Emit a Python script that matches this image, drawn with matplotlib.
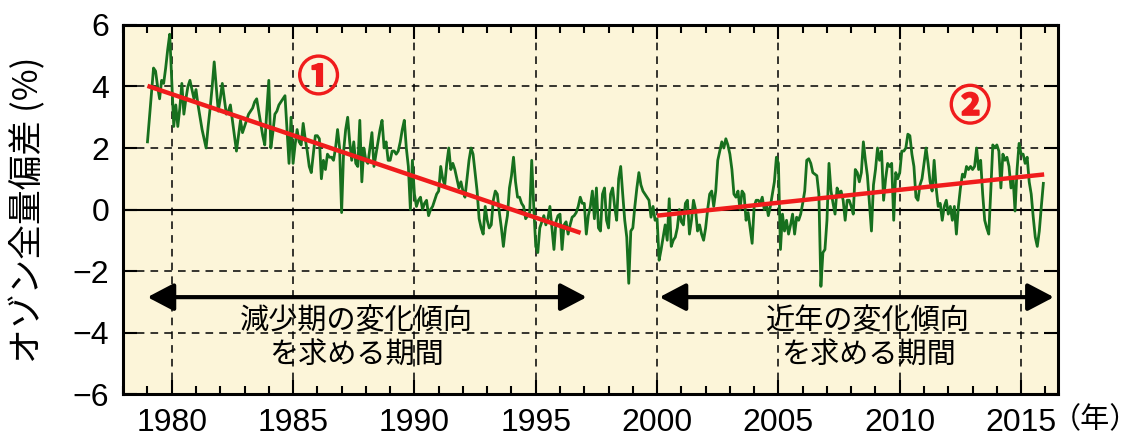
import numpy as np
import matplotlib.pyplot as plt
import matplotlib.patheffects as pe
from matplotlib.ticker import MultipleLocator

# monthly total ozone anomaly (%), Jan 1979 - Dec 2015
ozone_1979_1988 = [
    2.2, 3.0, 3.8, 4.6, 4.5, 4.0, 3.6, 4.2, 4.1, 4.6, 5.2, 5.7,    # 1979
    4.2, 2.7, 3.4, 2.7, 3.3, 4.1, 3.1, 3.6, 4.0, 4.2, 3.9, 3.6,    # 1980
    3.9, 3.4, 3.0, 2.6, 2.3, 2.0, 2.7, 3.3, 4.0, 4.8, 4.0, 3.2,    # 1981
    3.6, 4.1, 3.6, 3.1, 3.2, 3.4, 2.9, 2.4, 1.9, 2.4, 2.9, 2.5,    # 1982
    2.7, 2.9, 3.1, 3.2, 3.3, 3.5, 3.6, 3.2, 2.8, 2.4, 2.1, 3.2,    # 1983
    4.2, 2.0, 2.5, 3.1, 3.2, 3.4, 3.5, 3.6, 3.7, 2.6, 1.5, 3.0,    # 1984
    1.5, 2.1, 2.6, 2.2, 2.1, 2.8, 2.3, 1.9, 1.4, 1.2, 1.8, 2.4,    # 1985
    2.4, 2.3, 1.0, 1.6, 1.3, 1.8, 1.7, 1.7, 1.6, 2.0, 2.6, 2.0,    # 1986
    -0.1, 1.9, 2.6, 3.0, 2.2, 1.6, 2.2, 1.5, 1.4, 2.9, 0.9, 2.0,   # 1987
    1.6, 1.5, 2.0, 2.5, 1.4, 1.8, 2.2, 2.6, 2.9, 2.0, 2.2, 1.6,    # 1988
]
ozone_1989_1998 = [
    1.6, 1.9, 1.9, 1.8, 1.9, 2.2, 2.6, 2.9, 2.0, 1.4, 0.0, 1.6,            # 1989
    0.5, 0.1, 0.3, 0.4, 0.0, 0.2, 0.3, -0.2, 0.0, 0.1, 0.3, 0.5,           # 1990
    0.6, 1.4, 1.0, 0.8, 1.5, 2.0, 1.3, 1.5, 1.3, 1.0, 0.7, 0.9,            # 1991
    0.6, 0.4, 1.0, 1.6, 2.0, 1.8, 1.2, 0.6, -0.3, -0.6, -0.8, 0.1,         # 1992
    -0.35, -0.6, -0.5, 0.3, 0.6, 0.5, -0.1, -0.6, -1.2, -0.6, -0.2, 0.7,   # 1993
    1.1, 1.7, 0.9, 0.4, 0.4, 0.2, 0.1, -0.3, -0.2, -0.1, 1.6, 0.1,         # 1994
    -1.2, -1.4, -0.6, -0.4, -0.2, -0.5, -0.3, 0.1, -0.6, -1.3, -0.4, -0.2, # 1995
    -0.15, -1.3, -0.5, -0.4, -0.8, -0.5, -0.25, -0.2, -0.1, 0.1, 0.4, 0.2, # 1996
    0.2, -0.8, -0.2, 0.1, 0.6, -0.3, 0.7, -0.6, -0.7, 0.5, 0.7, -0.35,     # 1997
    -0.6, 0.5, 0.7, 0.1, -0.35, 1.0, 1.4, 0.5, -0.35, -0.9, -2.4, -0.7,    # 1998
]
ozone_1999_2008 = [
    -0.6, 0.1, 0.7, 1.2, 0.8, 0.6, 0.5, 0.4, 0.3, -0.25, 0.1, -0.35,           # 1999
    -0.3, -1.65, -1.3, -0.9, -0.5, -1.0, 0.35, -1.2, -1.0, -0.9, -0.6, 0.0,    # 2000
    -0.4, -0.5, 0.2, 0.3, -0.8, -0.35, 0.3, 0.0, -0.7, -0.5, -0.8, -1.0,       # 2001
    -0.6, 0.0, 0.5, 0.6, 0.1, 0.6, 1.6, 1.9, 2.2, 2.0, 2.3, 2.1,               # 2002
    1.8, 1.3, 0.5, 0.4, 0.6, 0.0, 0.6, 0.5, -0.35, -0.1, -0.6, -1.1,           # 2003
    0.1, 0.3, 0.3, 0.2, 0.4, 0.0, 0.2, -0.2, 0.1, 0.5, 0.9, 1.7,               # 2004
    1.5, -1.3, -0.15, -0.7, -0.35, -0.8, -0.5, -0.15, -0.8, -0.25, -0.35, -0.15,  # 2005
    0.2, 0.6, 1.6, 1.65, 1.5, 1.2, 1.15, 1.1, 0.5, -2.5, -1.4, -1.3,           # 2006
    -0.35, 1.5, 0.6, 0.2, -0.15, 0.7, 0.5, 0.6, 0.3, -0.35, 0.3, 0.3,          # 2007
    0.1, -0.15, 1.3, 1.2, 0.9, 1.2, 2.2, 1.6, 1.1, 0.2, -0.7, 0.8,             # 2008
]
ozone_2009_2015 = [
    1.3, 2.0, 1.6, 1.9, 0.3, 1.0, 1.5, 1.4, 1.5, -0.35, 1.2, 1.0,       # 2009
    1.2, 1.9, 1.9, 2.0, 2.45, 2.4, 1.8, 1.4, 0.4, 0.3, 0.8, 1.0,        # 2010
    1.5, 2.0, 1.5, 0.9, 0.6, 1.6, 0.7, 0.1, 0.2, -0.35, 0.1, 0.3,       # 2011
    -0.15, 0.1, -0.35, 0.1, -0.8, 0.1, 0.7, 1.15, 1.05, 1.4, 1.3, 1.4,  # 2012
    1.3, 1.4, 2.0, 1.3, 1.6, 0.5, -0.35, -0.6, -0.8, 0.6, 2.1, 2.0,     # 2013
    2.1, 1.9, 0.7, 1.8, 1.6, 1.7, 1.4, 0.7, 1.05, -0.05, 1.3, 2.15,     # 2014
    1.8, 1.8, 1.5, 1.7, 0.9, 0.5, -0.25, -0.9, -1.2, -0.7, 0.1, 0.85,   # 2015
]
start_year = 1979

# fitted trend lines (end points as drawn)
trend1_years = [1979.0, 1996.85]
trend1_vals = [4.02, -0.76]
trend2_years = [2000.0, 2015.95]
trend2_vals = [-0.2, 1.14]

# periods used for the trends (arrows)
period1 = [1979.0, 1997.1]
period2 = [2000.1, 2016.35]
period1_label = '減少期の変化傾向\nを求める期間'
period2_label = '近年の変化傾向\nを求める期間'

xticks = [1980, 1985, 1990, 1995, 2000, 2005, 2010, 2015]
yticks = [-6, -4, -2, 0, 2, 4, 6]

jp = ['Noto Sans CJK JP', 'DejaVu Sans']
plt.rcParams['font.family'] = ['Liberation Sans', 'DejaVu Sans']

ozone = np.array(ozone_1979_1988 + ozone_1989_1998 + ozone_1999_2008 + ozone_2009_2015)
t = start_year + np.arange(len(ozone)) / 12.0

fig = plt.figure(figsize=(11.47, 4.44), dpi=100)
ax = fig.add_axes([0.1072, 0.1126, 0.8152, 0.8311])
ax.set_facecolor('#fcf5d9')

green = '#17701e'
red = '#f01c1c'

ax.plot(t, ozone, color=green, lw=2.0, zorder=3)
ax.plot(trend1_years, trend1_vals, color=red, lw=3.2, solid_capstyle='butt', zorder=4)
ax.plot(trend2_years, trend2_vals, color=red, lw=3.2, solid_capstyle='butt', zorder=4)

ax.set_xlim(1977.99, 2016.52)
ax.set_ylim(-6, 6)
ax.set_xticks(xticks)
ax.set_yticks(yticks)
ax.xaxis.set_minor_locator(MultipleLocator(1))

# grid: dashed, zero line solid
for x in xticks:
    ax.axvline(x, color='black', lw=1.1, ls=(0, (5, 4)), zorder=1)
for y in yticks[1:-1]:
    if y == 0:
        ax.axhline(y, color='black', lw=1.5, zorder=2)
    else:
        ax.axhline(y, color='black', lw=1.1, ls=(0, (5, 4)), zorder=1)

ax.tick_params(which='both', direction='in', top=True, right=True, width=1.5,
               labelsize=23, colors='black')
ax.tick_params(which='major', length=10, pad=10)
ax.tick_params(which='minor', length=6)
for s in ax.spines.values():
    s.set_linewidth(2.2)

ax.set_ylabel('オゾン全量偏差 (%)', fontsize=25, family=jp)
ax.yaxis.set_label_coords(-0.082, 0.5)
ax.text(0.993, -0.071, '（年）', transform=ax.transAxes, fontsize=21, family=jp,
        ha='left', va='center')

# arrows for the two periods
arrow = dict(arrowstyle='<|-|>,head_length=0.8,head_width=0.42', lw=3.0,
             color='black', mutation_scale=20, shrinkA=0, shrinkB=0)
ax.annotate('', xy=(period1[1], -2.85), xytext=(period1[0], -2.85), arrowprops=arrow)
ax.annotate('', xy=(period2[1], -2.85), xytext=(period2[0], -2.85), arrowprops=arrow)

ax.text(1987.6, -4.2, period1_label, fontsize=21, family=jp, ha='center', va='center',
        linespacing=1.2)
ax.text(2008.7, -4.2, period2_label, fontsize=21, family=jp, ha='center', va='center',
        linespacing=1.2)

# circled numbers, thickened with a stroke of the same colour
thick = [pe.withStroke(linewidth=1.3, foreground=red)]
ax.text(1986.05, 4.25, '①', color=red, fontsize=30, fontweight='bold', family=jp,
        ha='center', va='center', path_effects=thick)
ax.text(2012.9, 3.3, '②', color=red, fontsize=30, fontweight='bold', family=jp,
        ha='center', va='center', path_effects=thick)

fig.savefig('out.png', dpi=100)
